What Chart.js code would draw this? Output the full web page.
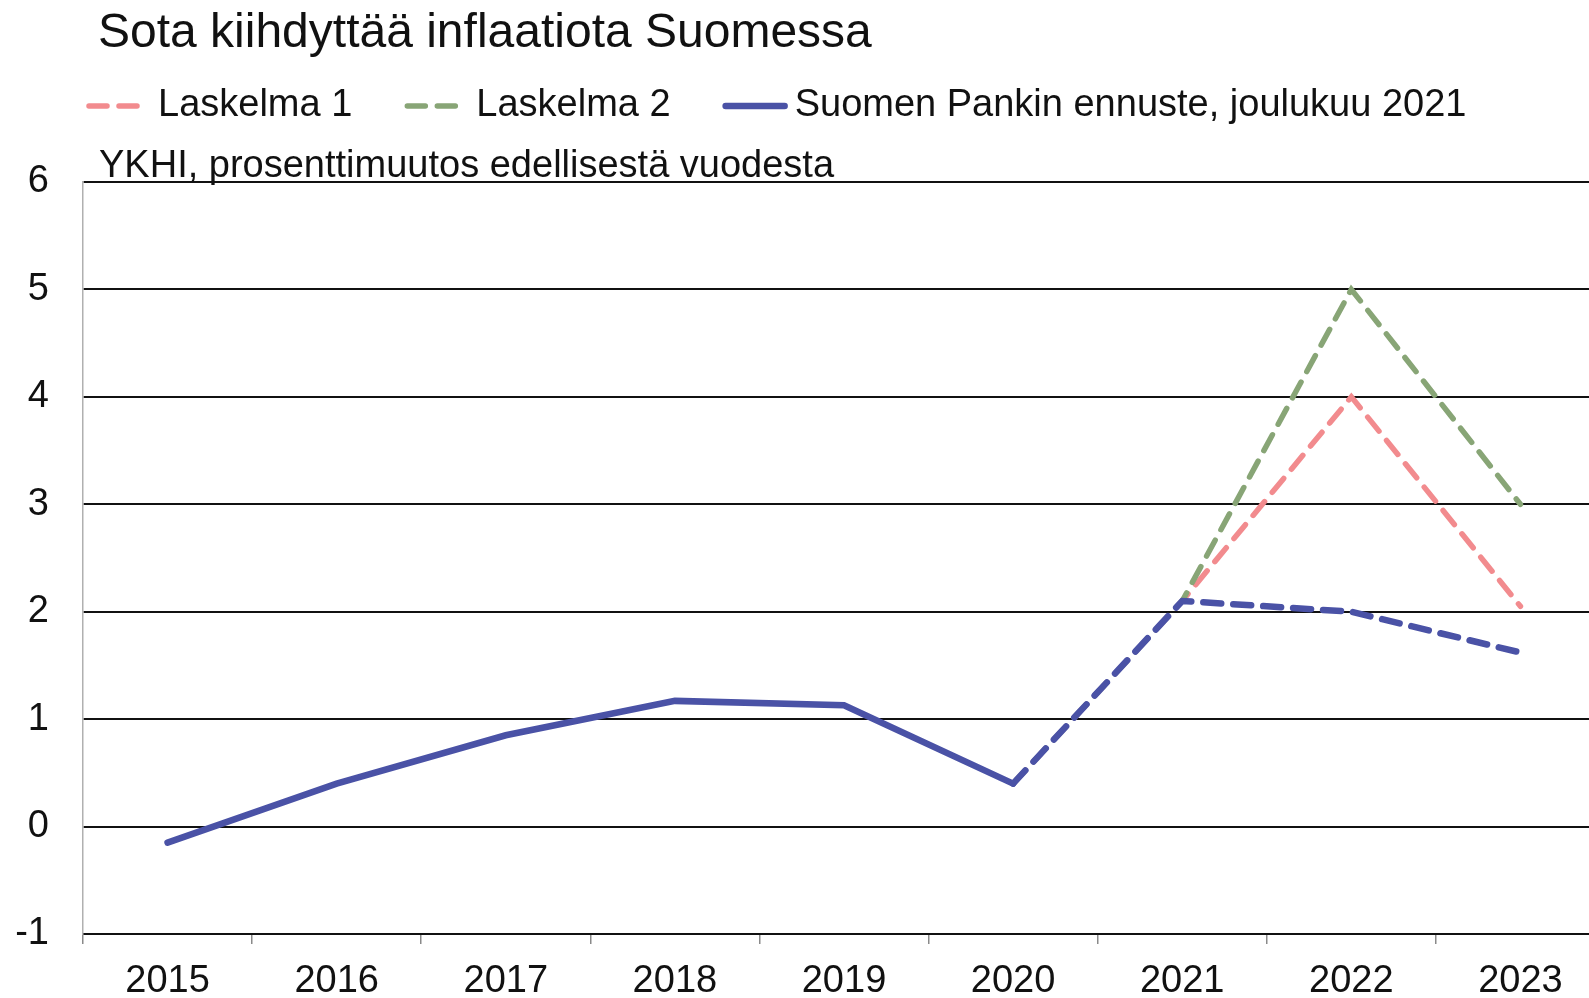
<html>
<head>
    <title>Sota kiihdyttää inflaatiota Suomessa</title>
    <style>
        body { margin: 0; overflow: hidden; background: #fff; }
    </style>
</head>
<body>
<div style="width: 1605px; height: 998px">
    <canvas id="inflation" width="1605" height="998"></canvas>
</div>

<script src="https://cdn.jsdelivr.net/npm/chart.js"></script>

<script>
    // data
    const years = ['2015', '2016', '2017', '2018', '2019', '2020', '2021', '2022', '2023']
    const laskelma1 = [null, null, null, null, null, 0.4, 2.1, 4.0, 2.05]
    const laskelma2 = [null, null, null, null, null, 0.4, 2.1, 5.0, 3.0]
    const ennuste = [-0.15, 0.4, 0.85, 1.17, 1.13, 0.4, 2.1, 2.0, 1.62]
    const forecastFrom = 5 // index where the forecast line turns dashed

    const titleText = 'Sota kiihdyttää inflaatiota Suomessa'
    const subtitleText = 'YKHI, prosenttimuutos edellisestä vuodesta'
    const font = '"Liberation Sans", Arial, sans-serif'

    const pink = '#f28b8e'
    const green = '#88a576'
    const blue = '#4a52a6'

    // legend order as in the picture
    const legendItems = [
        { label: 'Laskelma 1', color: pink, width: 5.5, dash: [18, 12] },
        { label: 'Laskelma 2', color: green, width: 5.5, dash: [18, 12] },
        { label: 'Suomen Pankin ennuste, joulukuu 2021', color: blue, width: 6.5, dash: [] }
    ]

    const headerPlugin = {
        id: 'header',
        afterDraw(chart) {
            const ctx = chart.ctx
            ctx.save()
            ctx.fillStyle = '#111'
            ctx.textBaseline = 'alphabetic'
            ctx.font = '48px ' + font
            ctx.fillText(titleText, 98, 47)

            // legend
            ctx.font = '38px ' + font
            let x = 86
            const y = 106
            for (const item of legendItems) {
                const sampleW = 62
                ctx.beginPath()
                ctx.strokeStyle = item.color
                ctx.lineWidth = item.width
                ctx.lineCap = 'round'
                ctx.setLineDash(item.dash)
                ctx.moveTo(x + 3, y)
                ctx.lineTo(x + sampleW, y)
                ctx.stroke()
                ctx.setLineDash([])
                ctx.textBaseline = 'middle'
                ctx.fillText(item.label, x + sampleW + 10, y)
                x += sampleW + 10 + ctx.measureText(item.label).width + 52
            }

            ctx.textBaseline = 'alphabetic'
            ctx.fillText(subtitleText, 99, 177)
            ctx.restore()
        }
    }

    new Chart(document.getElementById('inflation'), {
        type: 'line',
        data: {
            labels: years,
            datasets: [{
                label: legendItems[0].label,
                data: laskelma1,
                borderColor: pink,
                borderWidth: 5.5,
                borderDash: [18, 12],
                borderCapStyle: 'round',
                pointRadius: 0,
                order: 2
            }, {
                label: legendItems[1].label,
                data: laskelma2,
                borderColor: green,
                borderWidth: 5.5,
                borderDash: [18, 12],
                borderCapStyle: 'round',
                pointRadius: 0,
                order: 1
            }, {
                label: legendItems[2].label,
                data: ennuste,
                borderColor: blue,
                borderWidth: 6.5,
                borderCapStyle: 'round',
                pointRadius: 0,
                order: 0,
                segment: {
                    borderDash: ctx => ctx.p0DataIndex >= forecastFrom ? [18, 12] : undefined
                }
            }]
        },
        options: {
            responsive: false,
            animation: false,
            layout: { padding: { top: 182, left: 0, right: 0, bottom: 0 } },
            plugins: {
                legend: { display: false },
                tooltip: { enabled: false }
            },
            scales: {
                x: {
                    offset: true,
                    grid: {
                        offset: true,
                        drawOnChartArea: false,
                        drawTicks: true,
                        tickLength: 10,
                        color: '#8a8a8a',
                        lineWidth: 1.5
                    },
                    border: { display: true, color: '#111', width: 2 },
                    ticks: {
                        color: '#111',
                        font: { family: font, size: 38 },
                        padding: 15,
                        maxRotation: 0
                    },
                    afterFit: s => { s.height = 64 }
                },
                y: {
                    min: -1,
                    max: 6,
                    ticks: {
                        stepSize: 1,
                        color: '#111',
                        font: { family: font, size: 38 },
                        padding: 34
                    },
                    grid: {
                        color: '#111',
                        lineWidth: 2,
                        drawTicks: false
                    },
                    border: { display: true, color: '#b0b0b0', width: 1.5 },
                    afterFit: s => { s.width = 83 }
                }
            }
        },
        plugins: [headerPlugin]
    });
</script>
</body>
</html>
